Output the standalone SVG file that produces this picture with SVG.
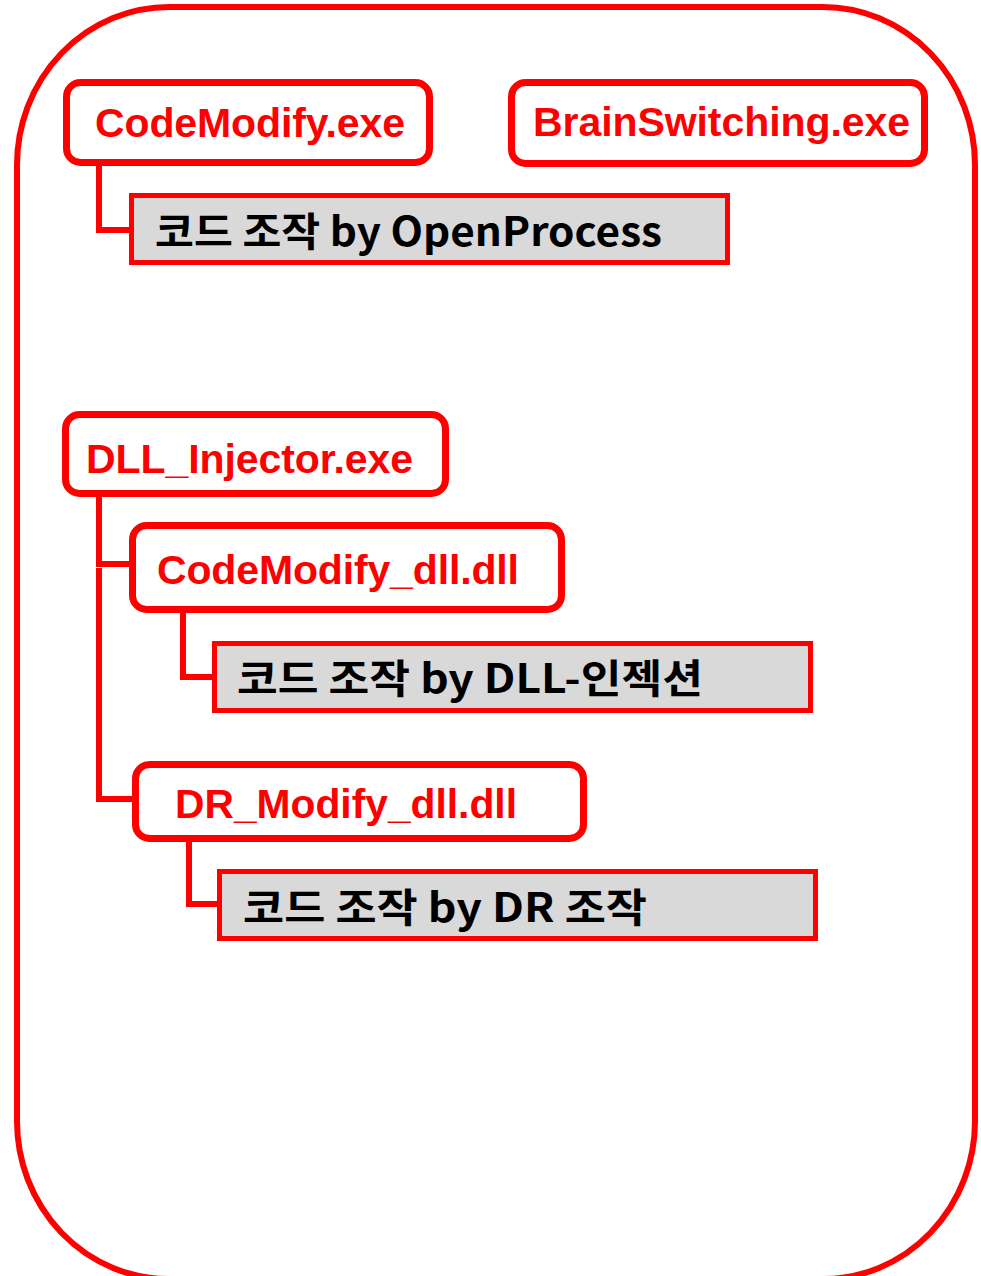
<svg xmlns="http://www.w3.org/2000/svg" width="981" height="1276" viewBox="0 0 981 1276">
<style>
.frame{fill:none;stroke:#ff0000;stroke-width:6}
.node{fill:#ffffff;stroke:#ff0000;stroke-width:7}
.note{fill:#d9d9d9;stroke:#ff0000;stroke-width:5}
.conn{fill:none;stroke:#ff0000;stroke-width:6}
.rt{font-family:"Liberation Sans",Arial,sans-serif;font-weight:bold;font-size:41px;fill:#ff0000}
.kt{font-family:"Noto Sans CJK KR","Noto Sans",sans-serif;font-weight:bold;font-size:40px;fill:#000000}
</style>
<rect class="frame" x="17" y="7" width="958" height="1272" rx="152" ry="158"/>
<g id="connectors">
<path class="conn" d="M99,166 V230 H131"/>
<path class="conn" d="M99,497 V564 H131"/>
<path class="conn" d="M99,568 V799 H135"/>
<path class="conn" d="M183,613 V677 H214"/>
<path class="conn" d="M189,841 V904 H219"/>
</g>
<g id="codemodify-exe">
<rect class="node" x="66.5" y="82.5" width="363" height="80" rx="14"/>
<text class="rt" x="95" y="137" textLength="310">CodeModify.exe</text>
</g>
<g id="brainswitching-exe">
<rect class="node" x="511.5" y="82.5" width="413" height="81" rx="14"/>
<text class="rt" x="533" y="136" textLength="377">BrainSwitching.exe</text>
</g>
<g id="note-openprocess">
<rect class="note" x="131.5" y="195.5" width="596" height="67"/>
<text class="kt" x="155" y="246" textLength="507" lengthAdjust="spacingAndGlyphs">코드 조작 by OpenProcess</text>
</g>
<g id="dll-injector-exe">
<rect class="node" x="65.5" y="414.5" width="380" height="79" rx="14"/>
<text class="rt" x="86" y="473" textLength="327">DLL_Injector.exe</text>
</g>
<g id="codemodify-dll">
<rect class="node" x="132.5" y="525.5" width="429" height="84" rx="14"/>
<text class="rt" x="157" y="584" textLength="362">CodeModify_dll.dll</text>
</g>
<g id="note-dll-injection">
<rect class="note" x="214.5" y="643.5" width="596" height="67"/>
<text class="kt" x="237" y="693" textLength="466" lengthAdjust="spacingAndGlyphs">코드 조작 by DLL-인젝션</text>
</g>
<g id="dr-modify-dll">
<rect class="node" x="135.5" y="764.5" width="448" height="74" rx="14"/>
<text class="rt" x="175" y="818" font-size="44" textLength="342" lengthAdjust="spacingAndGlyphs">DR_Modify_dll.dll</text>
</g>
<g id="note-dr">
<rect class="note" x="219.5" y="871.5" width="596" height="67"/>
<text class="kt" x="243" y="922" textLength="404" lengthAdjust="spacingAndGlyphs">코드 조작 by DR 조작</text>
</g>
</svg>
